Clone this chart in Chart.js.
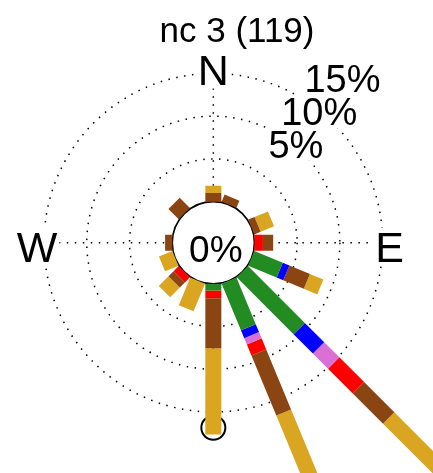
<!DOCTYPE html>
<html>
<head>
<meta charset="utf-8">
<script src="https://cdn.jsdelivr.net/npm/chart.js@4"></script>
<style>
  html, body { margin: 0; padding: 0; background: #fff; }
  #wrap { width: 433px; height: 473px; position: relative; }
</style>
</head>
<body>
<div id="wrap"><canvas id="chart"></canvas></div>
<script>
// wind rose, percent of 119 observations per direction and speed bin
var title = 'nc 3 (119)';
var directions = [0, 22.5, 45, 67.5, 90, 112.5, 135, 157.5, 180, 202.5, 225, 247.5, 270, 292.5, 315, 337.5];
var binNames = ['bin 1', 'bin 2', 'bin 3', 'bin 4', 'bin 5', 'bin 6'];
var binColours = ['#228B22', '#0000FF', '#DA70D6', '#FF0000', '#8B4513', '#DAA520'];

var bin1 = [0, 0, 0, 0, 0, 3.6, 9.4, 5.9, 0.8, 0, 0, 0, 0, 0, 0, 0];
var bin2 = [0, 0, 0, 0, 0, 0.84, 3.2, 1.0, 0, 0, 0, 0, 0, 0, 0, 0];
var bin3 = [0, 0, 0, 0, 0, 0, 2.5, 0.8, 0, 0, 0, 0, 0, 0, 0, 0];
var bin4 = [0, 0, 0, 0, 1.0, 0, 4.1, 1.4, 0.9, 0, 0.84, 0, 0, 0, 0, 0];
var bin5 = [1.0, 0.9, 0, 0.8, 1.2, 2.6, 5.0, 7.6, 5.85, 0, 0.84, 0, 0.84, 0, 1.7, 0];
var bin6 = [0.85, 0, 0, 1.7, 0, 1.7, 9.0, 8.0, 10.1, 3.5, 1.6, 1.7, 0, 0, 0, 0];

var gridPercents = [5, 10, 15];
var compass = ['N', 'E', 'W'];
var compassAngles = [0, 90, 270];
var calmLabel = '0%';

var hole = 4.8; // radius of the calm circle, in percent units
var bins = [bin1, bin2, bin3, bin4, bin5, bin6];

function rad(d) { return d * Math.PI / 180; }

var datasets = bins.map(function(vals, b) {
  var pts = [];
  directions.forEach(function(dir, i) {
    if (!vals[i]) return;
    var start = hole;
    for (var k = 0; k < b; k++) start += bins[k][i];
    var end = start + vals[i];
    var s = Math.sin(rad(dir)), c = Math.cos(rad(dir));
    pts.push({x: start * s, y: start * c}, {x: end * s, y: end * c}, {x: null, y: null});
  });
  return {
    label: binNames[b],
    data: pts,
    showLine: true,
    spanGaps: false,
    borderColor: binColours[b],
    backgroundColor: binColours[b],
    borderWidth: 16,
    borderCapStyle: 'butt',
    pointRadius: 0,
    pointHoverRadius: 0,
    tension: 0
  };
});

function labelBox(ctx, text, x, baseline, cap) {
  var w = ctx.measureText(text).width;
  ctx.fillStyle = '#fff';
  ctx.fillRect(x - w / 2 - 2, baseline - cap - 3, w + 4, cap + 6);
  ctx.fillStyle = '#000';
  ctx.fillText(text, x, baseline);
}

var roseDecor = {
  id: 'roseDecor',
  beforeDatasetsDraw: function(chart) {
    var ctx = chart.ctx, xs = chart.scales.x, ys = chart.scales.y;
    var cx = xs.getPixelForValue(0), cy = ys.getPixelForValue(0);
    var per = xs.getPixelForValue(1) - cx;
    function rPx(p) { return (hole + p) * per; }
    var outer = gridPercents[gridPercents.length - 1];
    ctx.save();

    // dotted grid
    ctx.strokeStyle = '#000';
    ctx.lineWidth = 1.5;
    ctx.setLineDash([1.5, 6.5]);
    gridPercents.forEach(function(p) {
      ctx.beginPath();
      ctx.arc(cx, cy, rPx(p), 0, Math.PI * 2);
      ctx.stroke();
    });
    [0, 90, 180, 270].forEach(function(a) {
      var s = Math.sin(rad(a)), c = Math.cos(rad(a));
      ctx.beginPath();
      ctx.moveTo(cx + rPx(0) * s, cy - rPx(0) * c);
      ctx.lineTo(cx + rPx(outer) * s, cy - rPx(outer) * c);
      ctx.stroke();
    });
    ctx.setLineDash([]);

    // compass letters
    ctx.font = '43px "Liberation Sans", Arial, sans-serif';
    ctx.textAlign = 'center';
    var rl = rPx(outer) + 7;
    compass.forEach(function(t, i) {
      var a = rad(compassAngles[i]);
      labelBox(ctx, t, cx + rl * Math.sin(a), cy - rl * Math.cos(a) + 19, 31);
    });

    // percent labels
    ctx.font = '38px "Liberation Sans", Arial, sans-serif';
    gridPercents.forEach(function(p) {
      var r = rPx(p);
      labelBox(ctx, p + '%', cx + 0.544 * r + 37, cy - 0.767 * r - 20.6, 27);
    });

    // calm circle
    ctx.beginPath();
    ctx.arc(cx, cy, rPx(0), 0, Math.PI * 2);
    ctx.fillStyle = '#fff';
    ctx.fill();
    ctx.strokeStyle = '#000';
    ctx.lineWidth = 1.6;
    ctx.stroke();

    // ring at the end of the south bar
    var sIdx = directions.indexOf(180), sTot = 0;
    bins.forEach(function(v) { sTot += v[sIdx]; });
    ctx.beginPath();
    ctx.arc(cx, cy + rPx(sTot - 0.8), 12, 0, Math.PI * 2);
    ctx.lineWidth = 2;
    ctx.stroke();

    // title
    ctx.font = '35px "Liberation Sans", Arial, sans-serif';
    ctx.fillStyle = '#000';
    ctx.fillText(title, 237, 41.7);
    ctx.restore();
  },
  afterDatasetsDraw: function(chart) {
    var ctx = chart.ctx, xs = chart.scales.x, ys = chart.scales.y;
    var cx = xs.getPixelForValue(0), cy = ys.getPixelForValue(0);
    ctx.save();
    ctx.font = '37px "Liberation Sans", Arial, sans-serif';
    ctx.textAlign = 'center';
    ctx.fillStyle = '#000';
    ctx.fillText(calmLabel, cx + 2.5, cy + 19);
    ctx.restore();
  }
};

var ctx = document.getElementById('chart').getContext('2d');
var chart = new Chart(ctx, {
  type: 'scatter',
  data: { datasets: datasets },
  options: {
    responsive: true,
    maintainAspectRatio: false,
    animation: false,
    events: [],
    layout: { padding: 0 },
    plugins: { legend: { display: false }, tooltip: { enabled: false } },
    scales: {
      x: { type: 'linear', display: false, min: -24.95, max: 25.69 },
      y: { type: 'linear', display: false, min: -26.94, max: 28.39 }
    }
  },
  plugins: [roseDecor]
});
</script>
</body>
</html>
